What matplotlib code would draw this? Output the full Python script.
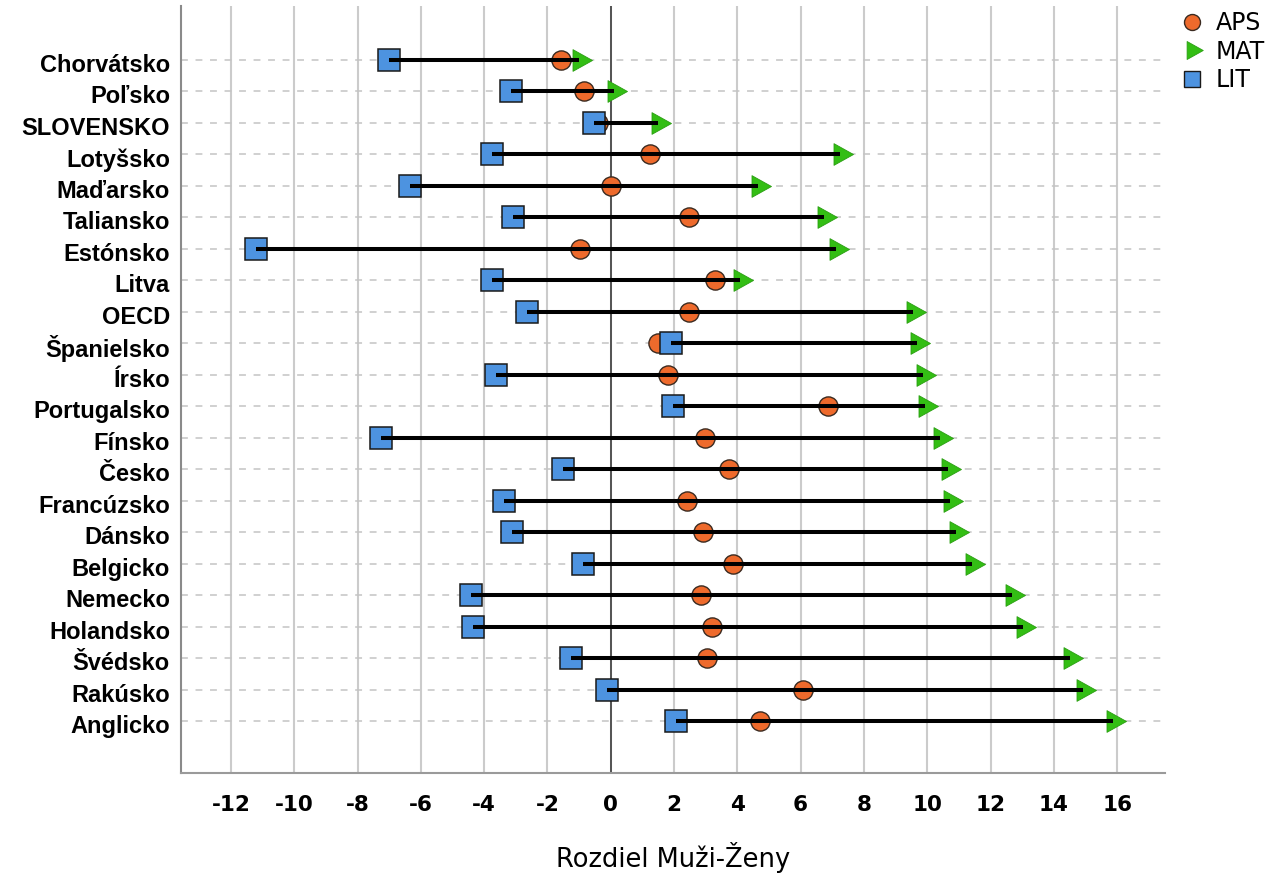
import matplotlib
matplotlib.use("Agg")
import matplotlib.pyplot as plt
import matplotlib.transforms as mtransforms
from matplotlib.path import Path
from matplotlib.lines import Line2D
import numpy as np

countries = ["Chorvátsko", "Poľsko", "SLOVENSKO", "Lotyšsko", "Maďarsko", "Taliansko",
             "Estónsko", "Litva", "OECD", "Španielsko", "Írsko", "Portugalsko", "Fínsko",
             "Česko", "Francúzsko", "Dánsko", "Belgicko", "Nemecko", "Holandsko",
             "Švédsko", "Rakúsko", "Anglicko"]
lit = [-7.0, -3.16, -0.52, -3.74, -6.34, -3.08, -11.2, -3.74, -2.65, 1.89, -3.62, 1.98,
       -7.27, -1.50, -3.37, -3.13, -0.88, -4.40, -4.36, -1.26, -0.13, 2.06]
aps = [-1.57, -0.83, -0.40, 1.24, 0.0, 2.46, -0.98, 3.29, 2.48, 1.50, 1.80, 6.86,
       2.98, 3.75, 2.40, 2.93, 3.85, 2.84, 3.20, 3.05, 6.08, 4.72]
mat = [-1.0, 0.10, 1.49, 7.24, 4.64, 6.75, 7.12, 4.09, 9.55, 9.69, 9.87, 9.93,
       10.40, 10.65, 10.73, 10.90, 11.41, 12.69, 13.03, 14.51, 14.93, 15.88]
xticks = list(range(-12, 17, 2))
xlabel = "Rozdiel Muži-Ženy"
series_names = ["APS", "MAT", "LIT"]

C_APS = "#EE6A2C"
C_MAT = "#33BE14"
C_LIT = "#4D93E0"

W, H = 1273, 874
fig = plt.figure(figsize=(W / 100, H / 100), dpi=100)
ax = fig.add_axes([181 / W, 1 - 773 / H, (1165 - 181) / W, (773 - 6) / H])

y = np.arange(len(countries))

# triangle with centroid at origin (pointing right)
tri = Path([(-6.5, 10.85), (-6.5, -10.85), (13.0, 0.0), (-6.5, 10.85)],
           [Path.MOVETO, Path.LINETO, Path.LINETO, Path.CLOSEPOLY])

ax.plot(aps, y, linestyle="none", marker="o", ms=13.8, mfc=C_APS, mec="#3a2a20",
        mew=1.0, zorder=3)
ax.plot(mat, y, linestyle="none", marker=tri, ms=18.7, mfc=C_MAT, mec="#2a9e12",
        mew=0.6, zorder=3)
ax.plot(lit, y, linestyle="none", marker="s", ms=15.3, mfc=C_LIT, mec="#1a1a1a",
        mew=1.1, zorder=3)
ax.hlines(y, lit, mat, color="black", lw=2.9, zorder=4)

ax.set_xlim((181 - 610.7) / 31.65, (1165 - 610.7) / 31.65)
ax.set_ylim(22.65, -1.715)

ax.set_xticks(xticks)
ax.set_xticklabels([str(t) for t in xticks])
ax.set_yticks(y)
ax.set_yticklabels(countries)

ax.grid(axis="x", color="#cbcbcb", lw=1.5, zorder=0)
ax.grid(axis="y", color="#c4c4c4", lw=1.1, linestyle=(0, (4.5, 5)), zorder=0)
ax.axvline(0, color="#4a4a4a", lw=1.3, zorder=1)
ax.set_axisbelow(True)

for s in ["top", "right"]:
    ax.spines[s].set_visible(False)
ax.spines["left"].set_color("#8a8a8a")
ax.spines["left"].set_linewidth(1.5)
ax.spines["bottom"].set_color("#9a9a9a")
ax.spines["bottom"].set_linewidth(1.5)

ax.tick_params(axis="both", length=0)
ax.tick_params(axis="y", pad=8)
ax.tick_params(axis="x", pad=16)
shift = mtransforms.ScaledTranslation(0, -3 / 100, fig.dpi_scale_trans)
for lab in ax.get_yticklabels():
    lab.set_fontfamily("Liberation Sans")
    lab.set_fontweight("bold")
    lab.set_fontsize(17)
    lab.set_transform(lab.get_transform() + shift)
for lab in ax.get_xticklabels():
    lab.set_fontfamily("DejaVu Sans")
    lab.set_fontweight("bold")
    lab.set_fontsize(15.5)

ax.set_xlabel(xlabel, fontfamily="DejaVu Sans", fontsize=18.5, labelpad=19)

handles = [
    Line2D([], [], linestyle="none", marker="o", ms=11.5, mfc=C_APS, mec="#3a2a20", mew=1.0),
    Line2D([], [], linestyle="none", marker=tri, ms=15.5, mfc=C_MAT, mec="#2a9e12", mew=0.6),
    Line2D([], [], linestyle="none", marker="s", ms=11.5, mfc=C_LIT, mec="#1a1a1a", mew=1.0),
]
fig.legend(handles, series_names, loc="upper left",
           bbox_to_anchor=(1183 / W, 1 - 11 / H), frameon=False,
           prop={"family": "DejaVu Sans", "size": 17},
           handletextpad=0.6, labelspacing=0.2, handlelength=0.8,
           borderaxespad=0, borderpad=0)

fig.savefig("out.png", dpi=100)
